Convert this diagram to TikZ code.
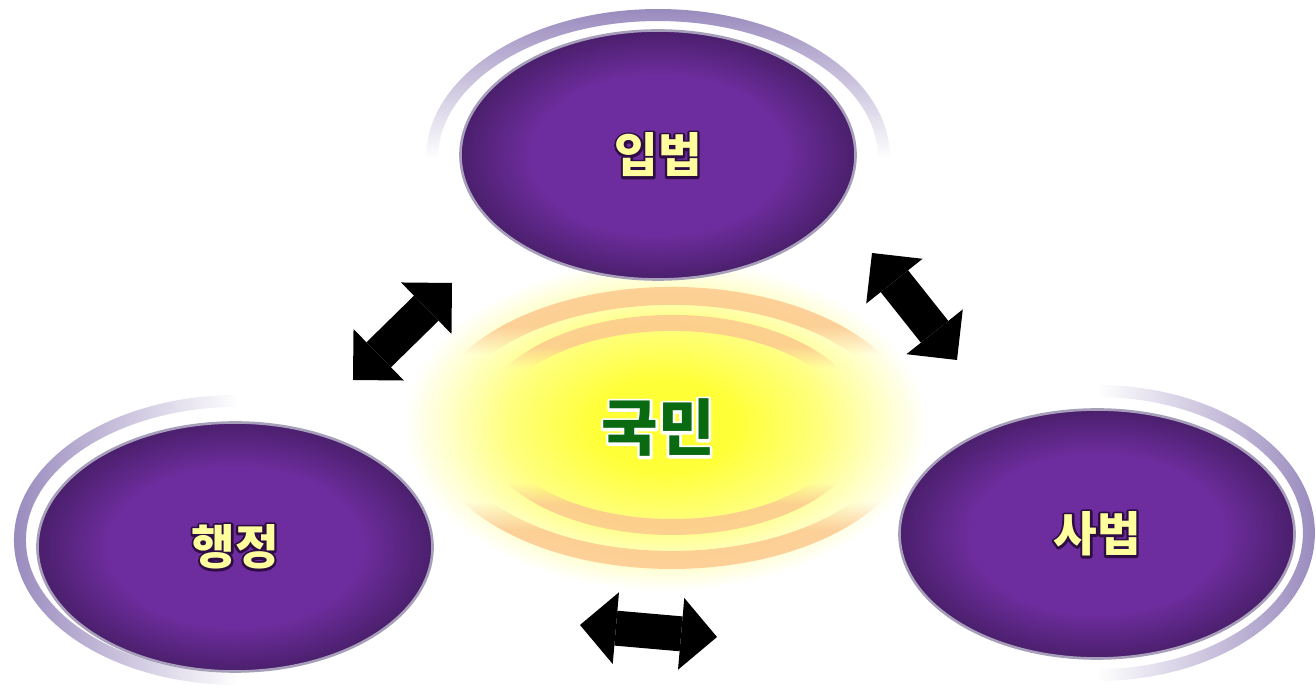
\documentclass[tikz,border=0pt]{standalone}
\usepackage{fontspec}
\newfontfamily\kr{Noto Sans CJK KR}
\usepackage{xcolor}
\definecolor{branchMid}  {HTML}{6E2D9E}
\definecolor{branchEdge} {HTML}{4A1F6C}
\definecolor{branchLine} {HTML}{A79EB9}
\definecolor{ringLav}    {HTML}{9A8BBE}
\definecolor{glowYellow} {HTML}{FFFF30}
\definecolor{glowRing}   {HTML}{FCC88E}
\definecolor{labelYellow}{HTML}{FFFF9E}
\definecolor{labelShade} {HTML}{2E0D45}
\definecolor{peopleGreen}{HTML}{0A6A12}
\usetikzlibrary{arrows.meta, shapes.geometric, fadings}

% text with a rim: stroked copy underneath, plain copy on top
\newcommand{\rimtext}[3]{\leavevmode\rlap{\color{#1}\special{pdf:literal direct #2 w 1 j 2 Tr}#3\special{pdf:literal direct 0 Tr}}#3}

\pgfdeclareradialshading{branchfill}{\pgfpointorigin}{color(0bp)=(branchMid); color(16bp)=(branchMid); color(25bp)=(branchEdge); color(50bp)=(branchEdge)}
\pgfdeclareverticalshading{ringTopShade}{100bp}{color(0bp)=(pgftransparent!100); color(50bp)=(pgftransparent!100); color(75bp)=(pgftransparent!0); color(100bp)=(pgftransparent!0)}
\pgfdeclarehorizontalshading{ringLeftShade}{100bp}{color(0bp)=(pgftransparent!0); color(25bp)=(pgftransparent!0); color(50bp)=(pgftransparent!100); color(100bp)=(pgftransparent!100)}
\pgfdeclarehorizontalshading{ringRightShade}{100bp}{color(0bp)=(pgftransparent!100); color(50bp)=(pgftransparent!100); color(75bp)=(pgftransparent!0); color(100bp)=(pgftransparent!0)}
\pgfdeclareverticalshading{rippleShade}{100bp}{color(0bp)=(pgftransparent!0); color(32bp)=(pgftransparent!0); color(37bp)=(pgftransparent!100); color(63bp)=(pgftransparent!100); color(68bp)=(pgftransparent!0); color(100bp)=(pgftransparent!0)}
\pgfdeclareradialshading{glowShade}{\pgfpointorigin}{color(0bp)=(pgftransparent!0); color(7bp)=(pgftransparent!5); color(15bp)=(pgftransparent!38); color(25bp)=(pgftransparent!100); color(50bp)=(pgftransparent!100)}
\pgfdeclarefading{ringTop}{\pgfuseshading{ringTopShade}}
\pgfdeclarefading{ringLeft}{\pgfuseshading{ringLeftShade}}
\pgfdeclarefading{ringRight}{\pgfuseshading{ringRightShade}}
\pgfdeclarefading{rippleFade}{\pgfuseshading{rippleShade}}
\pgfdeclarefading{glowFade}{\pgfuseshading{glowShade}}

\tikzset{
    branch/.style={ellipse, draw=branchLine, line width=1.5pt, shade,
                   shading=branchfill, minimum width=7.9cm, minimum height=4.98cm,
                   inner sep=0pt, text=labelYellow,
                   font=\kr\bfseries\fontsize{27}{31}\selectfont},
    people/.style={inner sep=0pt, text=peopleGreen,
                   font=\kr\bfseries\fontsize{35}{40}\selectfont},
    halo/.style={ringLav, line width=0.24cm},
    ripple/.style={glowRing, opacity=0.85, path fading=rippleFade},
    link/.style={line width=0.7cm,
                 {Triangle[length=0.72cm 0 0, width=1.44cm 0 0, line width=0pt 0 0]}-{Triangle[length=0.72cm 0 0, width=1.44cm 0 0, line width=0pt 0 0]}},
}

\begin{document}
\begin{tikzpicture}
\fill[white] (0,0) rectangle (26.32,13.8);
\useasboundingbox (0,0) rectangle (26.32,13.8);

% --- fading rings behind the branches ---
\draw[halo, path fading=ringTop] (13.16,10.64) ellipse [x radius=4.52cm, y radius=2.86cm];
\draw[halo, path fading=ringLeft] (4.76,3.0) ellipse [x radius=4.36cm, y radius=2.78cm];
\draw[halo, path fading=ringRight] (21.94,3.14) ellipse [x radius=4.24cm, y radius=2.84cm];

% --- the people: glow and ripples ---
\coordinate (core) at (13.30,5.30);
\fill[glowYellow, path fading=glowFade] (core) ellipse [x radius=5.2cm, y radius=3.3cm];
\draw[ripple, line width=0.36cm] (13.44,5.24) ellipse [x radius=4.72cm, y radius=2.64cm];
\draw[ripple, line width=0.32cm] (13.44,5.30) ellipse [x radius=3.72cm, y radius=2.04cm];
\node[people] (gukmin) at (13.16,5.24) {\rimtext{white}{3}{국민}};

% --- three branches ---
\node[branch] (ipbeop) at (13.16,10.70) {\rimtext{labelShade}{2.6}{입법}};
\node[branch] (haengjeong) at (4.70,2.86) {\rimtext{labelShade}{2.6}{행정}};
\node[branch] (sabeop) at (21.94,3.12) {\rimtext{labelShade}{2.6}{사법}};

% --- checks between branches ---
\coordinate (l-a) at (7.06,6.20);
\coordinate (l-b) at (9.04,8.14);
\coordinate (r-a) at (17.44,8.74);
\coordinate (r-b) at (19.14,6.60);
\coordinate (b-a) at (11.60,1.30);
\coordinate (b-b) at (14.34,1.06);
\draw[link] (l-a) -- (l-b);
\draw[link] (r-a) -- (r-b);
\draw[link] (b-a) -- (b-b);
\end{tikzpicture}
\end{document}
